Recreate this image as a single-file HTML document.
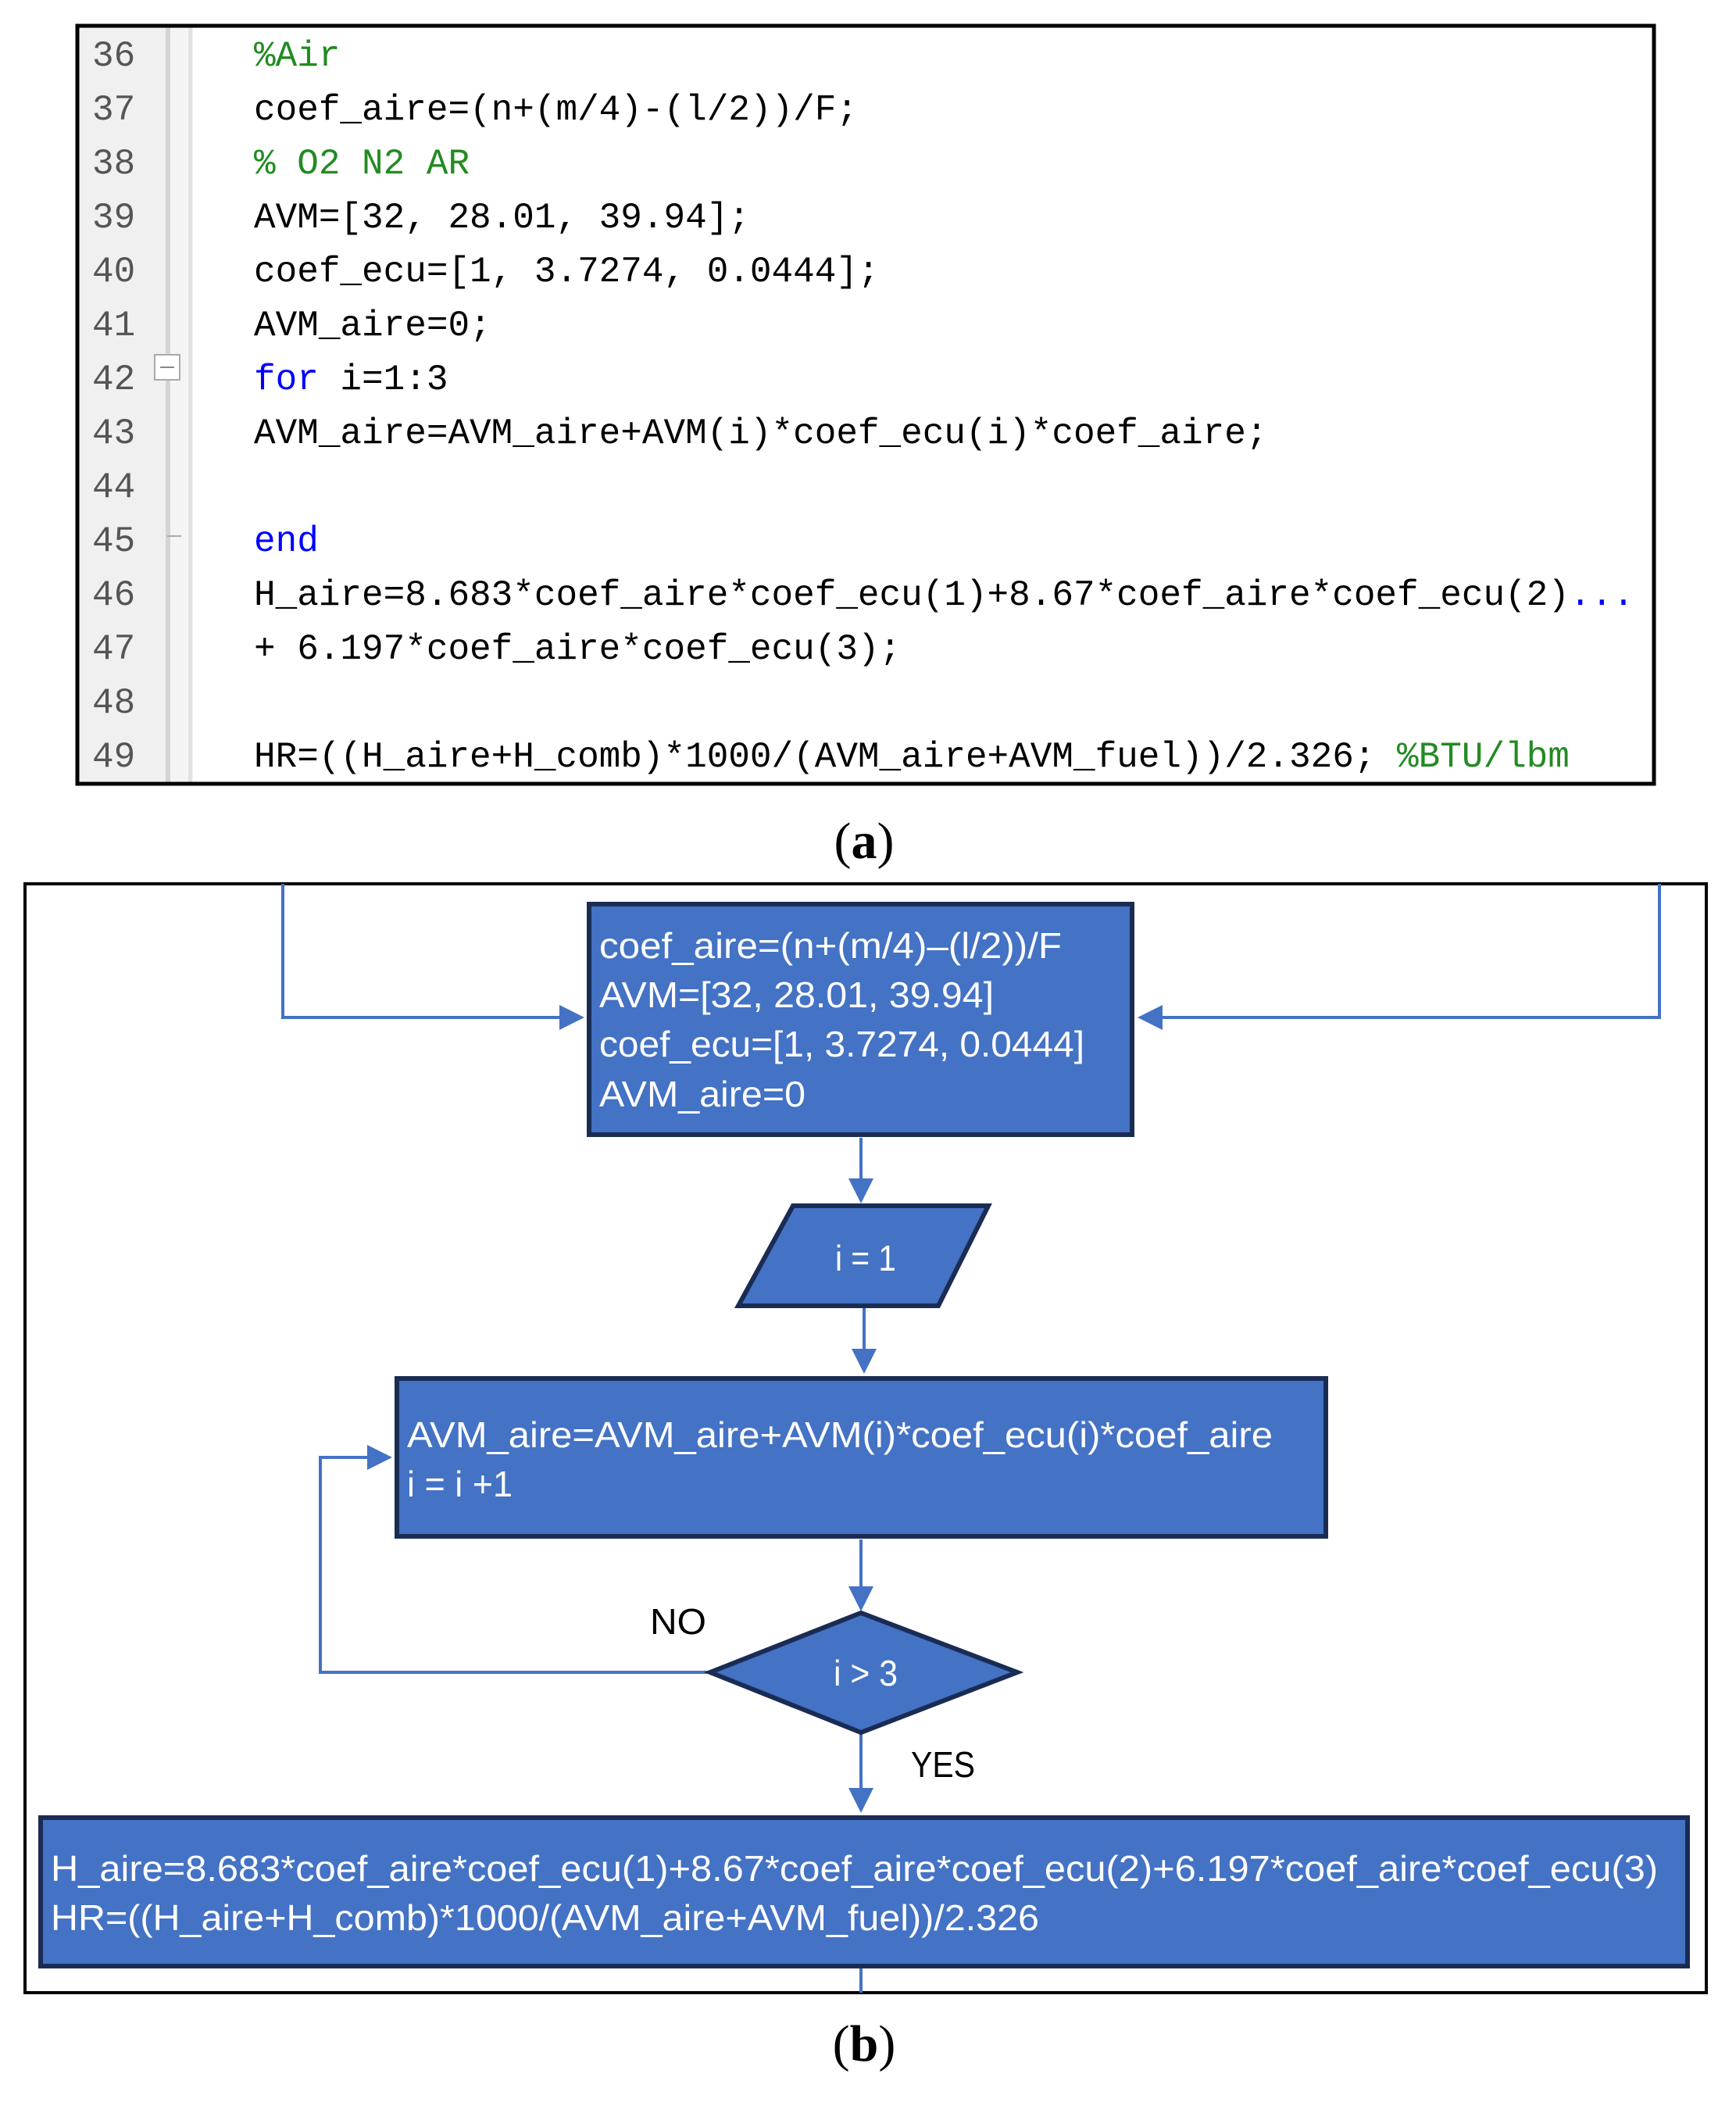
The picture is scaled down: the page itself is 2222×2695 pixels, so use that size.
<!DOCTYPE html>
<html><head><meta charset="utf-8"><style>
html,body{margin:0;padding:0;background:#fff;}
svg{display:block;}
.mono{font-family:"Liberation Mono",monospace;font-size:46px;}
.fc{font-family:"Liberation Sans",sans-serif;font-size:46px;fill:#fff;}
</style></head><body>
<svg width="2222" height="2695" viewBox="0 0 2222 2695" xmlns="http://www.w3.org/2000/svg">
<defs>
<marker id="ar" markerWidth="8" markerHeight="8" refX="7" refY="4" orient="auto" markerUnits="strokeWidth">
<path d="M0,0 L8,4 L0,8 z" fill="#4472C4"/></marker>
</defs>
<!-- code panel -->
<rect x="99" y="33" width="2018" height="970" fill="#fff"/>
<rect x="99" y="33" width="113" height="970" fill="#f0f0f0"/>
<rect x="212" y="33" width="35" height="970" fill="#f4f4f4"/>
<rect x="212" y="33" width="6" height="970" fill="#d4d4d4"/>
<rect x="241" y="33" width="5" height="970" fill="#e2e2e2"/>
<rect x="198" y="454" width="32" height="32" fill="#fff" stroke="#aaa" stroke-width="2"/>
<line x1="205" y1="470" x2="223" y2="470" stroke="#888" stroke-width="2"/>
<line x1="214" y1="686" x2="232" y2="686" stroke="#aaa" stroke-width="2"/>
<rect x="99" y="33" width="2018" height="970" fill="none" stroke="#000" stroke-width="5"/>
<g class="mono" fill="#555">
<text x="118" y="84">36</text><text x="118" y="153">37</text><text x="118" y="222">38</text><text x="118" y="291">39</text>
<text x="118" y="360">40</text><text x="118" y="429">41</text><text x="118" y="498">42</text><text x="118" y="567">43</text>
<text x="118" y="636">44</text><text x="118" y="705">45</text><text x="118" y="774">46</text><text x="118" y="843">47</text>
<text x="118" y="912">48</text><text x="118" y="981">49</text>
</g>
<g class="mono" fill="#000" xml:space="preserve">
<text x="325" y="84" fill="#228B22">%Air</text>
<text x="325" y="153">coef_aire=(n+(m/4)-(l/2))/F;</text>
<text x="325" y="222" fill="#228B22">%    O2     N2      AR</text>
<text x="325" y="291">AVM=[32, 28.01, 39.94];</text>
<text x="325" y="360">coef_ecu=[1, 3.7274, 0.0444];</text>
<text x="325" y="429">AVM_aire=0;</text>
<text x="325" y="498"><tspan fill="#0000FF">for</tspan> i=1:3</text>
<text x="325" y="567">AVM_aire=AVM_aire+AVM(i)*coef_ecu(i)*coef_aire;</text>
<text x="325" y="705" fill="#0000FF">end</text>
<text x="325" y="774">H_aire=8.683*coef_aire*coef_ecu(1)+8.67*coef_aire*coef_ecu(2)<tspan fill="#0000FF">...</tspan></text>
<text x="325" y="843">+ 6.197*coef_aire*coef_ecu(3);</text>
<text x="325" y="981">HR=((H_aire+H_comb)*1000/(AVM_aire+AVM_fuel))/2.326; <tspan fill="#228B22">%BTU/lbm</tspan></text>
</g>
<text x="1106" y="1098" text-anchor="middle" font-family="Liberation Serif,serif" font-size="66">(<tspan font-weight="bold">a</tspan>)</text>

<!-- flowchart frame -->
<rect x="32" y="1131" width="2152" height="1419" fill="none" stroke="#000" stroke-width="4"/>
<g stroke="#4472C4" stroke-width="4" fill="none">
<polyline points="362,1131 362,1302 744,1302" marker-end="url(#ar)"/>
<polyline points="2124,1131 2124,1302 1460,1302" marker-end="url(#ar)"/>
<line x1="1102" y1="1456" x2="1102" y2="1536" marker-end="url(#ar)"/>
<line x1="1106" y1="1674" x2="1106" y2="1754" marker-end="url(#ar)"/>
<line x1="1102" y1="1970" x2="1102" y2="2058" marker-end="url(#ar)"/>
<polyline points="909,2140 410,2140 410,1865 498,1865" marker-end="url(#ar)"/>
<line x1="1102" y1="2217" x2="1102" y2="2316" marker-end="url(#ar)"/>
<line x1="1102" y1="2517" x2="1102" y2="2550"/>
</g>
<g fill="#4472C4" stroke="#1a2c54" stroke-width="6">
<rect x="754" y="1157" width="695" height="295"/>
<polygon points="1015,1543 1265,1543 1201,1671 945,1671"/>
<rect x="508" y="1764" width="1189" height="202"/>
<polygon points="909,2140 1102,2064 1302,2140 1102,2217"/>
<rect x="52" y="2326" width="2108" height="190"/>
</g>
<g class="fc" lengthAdjust="spacingAndGlyphs">
<text x="767" y="1226" textLength="592" lengthAdjust="spacingAndGlyphs">coef_aire=(n+(m/4)–(l/2))/F</text>
<text x="767" y="1289" textLength="505" lengthAdjust="spacingAndGlyphs">AVM=[32, 28.01, 39.94]</text>
<text x="767" y="1352" textLength="621" lengthAdjust="spacingAndGlyphs">coef_ecu=[1, 3.7274, 0.0444]</text>
<text x="767" y="1416" textLength="264" lengthAdjust="spacingAndGlyphs">AVM_aire=0</text>
<text x="1069" y="1626" textLength="78" lengthAdjust="spacingAndGlyphs">i = 1</text>
<text x="521" y="1852" textLength="1108" lengthAdjust="spacingAndGlyphs">AVM_aire=AVM_aire+AVM(i)*coef_ecu(i)*coef_aire</text>
<text x="521" y="1915" textLength="135" lengthAdjust="spacingAndGlyphs">i = i +1</text>
<text x="1067" y="2157" textLength="82" lengthAdjust="spacingAndGlyphs">i &gt; 3</text>
<text x="65" y="2407" textLength="2057" lengthAdjust="spacingAndGlyphs">H_aire=8.683*coef_aire*coef_ecu(1)+8.67*coef_aire*coef_ecu(2)+6.197*coef_aire*coef_ecu(3)</text>
<text x="65" y="2470" textLength="1265" lengthAdjust="spacingAndGlyphs">HR=((H_aire+H_comb)*1000/(AVM_aire+AVM_fuel))/2.326</text>
</g>
<text x="832" y="2091" font-family="Liberation Sans,sans-serif" font-size="46" textLength="72" lengthAdjust="spacingAndGlyphs">NO</text>
<text x="1166" y="2274" font-family="Liberation Sans,sans-serif" font-size="46" textLength="82" lengthAdjust="spacingAndGlyphs">YES</text>
<text x="1106" y="2637" text-anchor="middle" font-family="Liberation Serif,serif" font-size="66">(<tspan font-weight="bold">b</tspan>)</text>
</svg>
</body></html>
